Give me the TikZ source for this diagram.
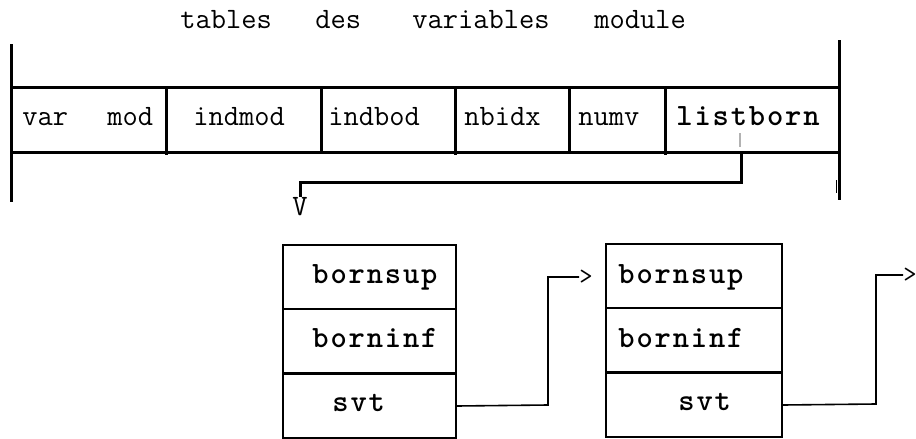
\documentclass[tikz,border=0pt]{standalone}
\usepackage{fontspec}
\newfontfamily\boxfont{lmmonolt10-bold.otf}[LetterSpace=6]
\begin{document}
\begin{tikzpicture}[x=0.5pt,y=-0.5pt,
  tabline/.style={line width=1.5pt},
  boxline/.style={line width=1pt},
  link/.style={line width=0.8pt},
  toptext/.style={anchor=base west,inner sep=0pt,font=\ttfamily\fontsize{14.8}{16}\selectfont},
  boxtext/.style={anchor=base west,inner sep=0pt,font=\boxfont\fontsize{15.5}{17}\selectfont},
  cell/.style={draw,boxline,anchor=north west,inner sep=0pt,minimum width=#1*0.5pt,minimum height=64*0.5pt}]
\useasboundingbox (0,0) rectangle (916,439);

% title
\node[toptext] (t1) at (180,28) {tables};
\node[toptext] (t2) at (315,28) {des};
\node[toptext] (t3) at (412,28) {variables};
\node[toptext] (t4) at (594,28) {module};

% module variable table
\draw[tabline] (11,44) -- (11,202);
\draw[tabline] (839,40) -- (839,200);
\draw[line width=0.8pt] (836.5,180) -- (836.5,193);
\draw[tabline] (11,87) -- (839,87);
\draw[tabline] (11,152) -- (839,152);
\foreach \xx/\yy in {166/155,321/152,455/155,569/152,665/155}
  \draw[tabline] (\xx,87) -- (\xx,\yy);

\node[toptext] (c1a) at (22,125) {var};
\node[toptext] (c1b) at (107,125) {mod};
\node[toptext] (c2) at (193,125) {indmod};
\node[toptext] (c3) at (328,125) {indbod};
\node[toptext] (c4) at (464,125) {nbidx};
\node[toptext] (c5) at (578,125) {numv};
\node[boxtext] (c6) at (676,125) {listborn};

% pointer from listborn to the first bound
\draw[gray!60,line width=0.6pt] (740,133) -- (740,147);
\coordinate (lb) at (741,152);
\node[inner sep=0pt,font=\ttfamily\fontsize{14.8}{16}\selectfont] (vtip) at (300,207) {V};
\draw[tabline] (lb) -- (741,182) -| (vtip.north);

% first bound record
\node[cell=173] (b1sup) at (282,244) {};
\node[cell=173] (b1inf) at (282,308) {};
\node[cell=173] (b1svt) at (282,373) {};
\node[boxtext] (l1a) at (312,283) {bornsup};
\node[boxtext] (l1b) at (312,347) {borninf};
\node[boxtext] (l1c) at (332,411) {svt};

% second bound record
\node[cell=176] (b2sup) at (605,243) {};
\node[cell=176] (b2inf) at (605,307) {};
\node[cell=176] (b2svt) at (605,372) {};
\node[boxtext] (l2a) at (618,283) {bornsup};
\node[boxtext] (l2b) at (618,347) {borninf};
\node[boxtext] (l2c) at (678,410) {svt};

% links between records
\node[anchor=west,inner sep=0pt,font=\ttfamily\fontsize{13}{15}\selectfont] (gt1) at (579,277) {>};
\node[anchor=west,inner sep=0pt,font=\ttfamily\fontsize{13}{15}\selectfont] (gt2) at (903,275) {>};
\draw[link] (b1svt.east) -- (548,405) |- (gt1.west);
\draw[link] (b2svt.east) -- (876,404) |- (gt2.west);
\end{tikzpicture}
\end{document}
